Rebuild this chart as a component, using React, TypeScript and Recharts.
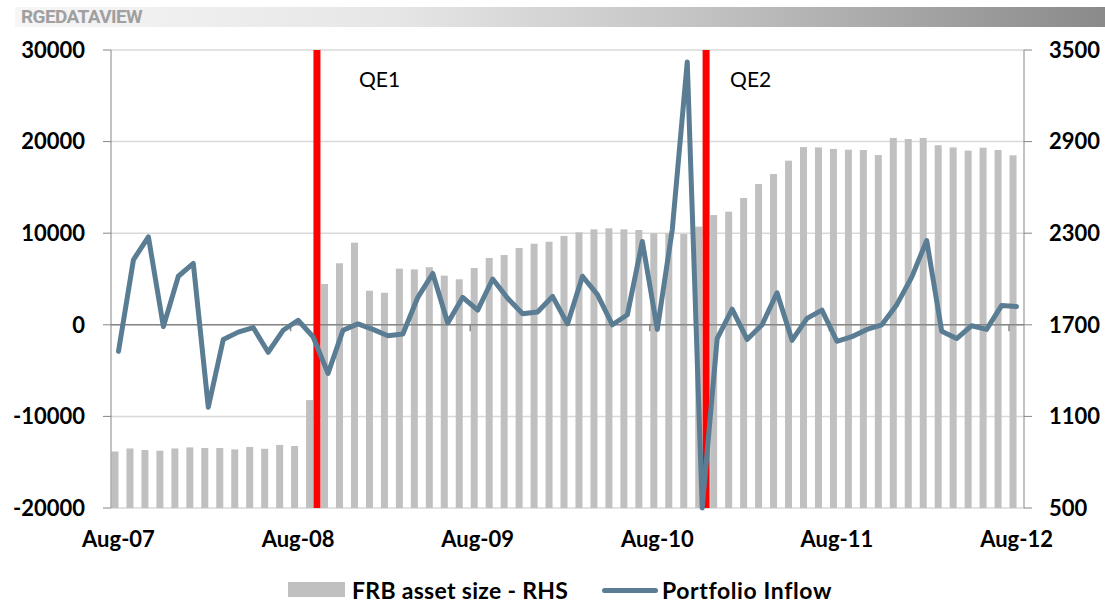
import React from "react";
import {
  ComposedChart,
  Bar,
  Line,
  XAxis,
  YAxis,
  CartesianGrid,
  ReferenceLine,
} from "recharts";

// monthly, Aug-07 .. Aug-12
const months = [
  "Aug-07", "Sep-07", "Oct-07", "Nov-07", "Dec-07", "Jan-08", "Feb-08", "Mar-08", "Apr-08", "May-08", "Jun-08", "Jul-08",
  "Aug-08", "Sep-08", "Oct-08", "Nov-08", "Dec-08", "Jan-09", "Feb-09", "Mar-09", "Apr-09", "May-09", "Jun-09", "Jul-09",
  "Aug-09", "Sep-09", "Oct-09", "Nov-09", "Dec-09", "Jan-10", "Feb-10", "Mar-10", "Apr-10", "May-10", "Jun-10", "Jul-10",
  "Aug-10", "Sep-10", "Oct-10", "Nov-10", "Dec-10", "Jan-11", "Feb-11", "Mar-11", "Apr-11", "May-11", "Jun-11", "Jul-11",
  "Aug-11", "Sep-11", "Oct-11", "Nov-11", "Dec-11", "Jan-12", "Feb-12", "Mar-12", "Apr-12", "May-12", "Jun-12", "Jul-12",
  "Aug-12",
];

// FRB asset size (RHS)
const frbAssets = [
  870, 890, 880, 875, 890, 897, 893, 893, 884, 900, 888, 913,
  906, 1207, 1967, 2103, 2238, 1923, 1910, 2068, 2063, 2077, 2022, 1998,
  2072, 2138, 2157, 2203, 2231, 2244, 2282, 2306, 2325, 2332, 2325, 2321,
  2299, 2299, 2295, 2343, 2419, 2441, 2531, 2622, 2688, 2775, 2864, 2862,
  2852, 2847, 2845, 2812, 2924, 2917, 2924, 2876, 2862, 2841, 2860, 2845,
  2810,
];

// Portfolio inflow (LHS)
const portfolioInflow = [
  -2900, 7100, 9600, -200, 5300, 6700, -9000, -1600, -800, -300, -3000, -600,
  500, -1300, -5300, -600, 100, -500, -1200, -1000, 3000, 5600, 200, 3000,
  1600, 5000, 2900, 1200, 1400, 3100, 100, 5300, 3300, 0, 1100, 9100,
  -500, 10400, 28700, -20000, -1500, 1700, -1600, 0, 3500, -1700, 700, 1600,
  -1800, -1300, -500, 0, 2200, 5200, 9200, -700, -1500, -100, -500, 2100,
  2000,
];

const xTicks = [0, 12, 24, 36, 48, 60];
const leftTicks = [-20000, -10000, 0, 10000, 20000, 30000];
const rightTicks = [500, 1100, 1700, 2300, 2900, 3500];
const yearTicks = [11.5, 23.5, 35.5, 47.5, 59.5];

const qeEvents = [
  { label: "QE1", at: 13.26 },
  { label: "QE2", at: 39.26 },
];
const qeLabelDx = [42, 24];

const data = months.map((m, i) => ({
  idx: i,
  month: m,
  frb: frbAssets[i],
  inflow: portfolioInflow[i],
}));

const BAR_GREY = "#c0c0c0";
const LINE_BLUE = "#5a7d93";
const AXIS_GREY = "#868686";
const FONT = "Lato, 'Open Sans', sans-serif";

const tickStyle = { fontSize: 22, fontWeight: 700, fill: "#000", fontFamily: FONT };

function OffsetBar(props: any) {
  const { x, y, width, height } = props;
  if (height <= 0) return null;
  return <rect x={x - 3.5} y={y} width={width} height={height} fill={BAR_GREY} />;
}

function QeLabel(props: any) {
  const { viewBox, text, dx } = props;
  if (!viewBox) return null;
  return (
    <text x={viewBox.x + dx} y={viewBox.y + 37} fontSize={21} fontFamily={FONT} fill="#000">
      {text}
    </text>
  );
}

export default function App() {
  return (
    <div style={{ position: "absolute", left: 0, top: 0, width: 1105, height: 602, background: "#fff", fontFamily: FONT }}>
      {/* header strip */}
      <div
        style={{
          position: "absolute",
          left: 15,
          top: 7,
          width: 1090,
          height: 20,
          background: "linear-gradient(to right, #f6f6f6 0%, #e6e6e6 35%, #c4c4c4 62%, #8a8a8a 100%)",
        }}
      >
        <span
          style={{
            position: "absolute",
            left: 6,
            top: 0,
            lineHeight: "20px",
            fontSize: 19,
            fontWeight: 700,
            letterSpacing: -0.6,
            color: "#a0a0a0",
            fontFamily: "Roboto, sans-serif",
          }}
        >
          RGEDATAVIEW
        </span>
      </div>

      <div style={{ position: "absolute", left: 0, top: 0 }}>
        <ComposedChart
          width={1105}
          height={602}
          data={data}
          margin={{ top: 50, right: 0, bottom: 54, left: 11 }}
        >
          <CartesianGrid yAxisId="left" vertical={false} stroke="#d9d9d9" strokeWidth={1.5} />
          <XAxis
            type="number"
            dataKey="idx"
            domain={[-0.5, 60.5]}
            ticks={xTicks}
            tickFormatter={(v) => months[v]}
            axisLine={false}
            tickLine={false}
            tickSize={6}
            tickMargin={17}
            height={40}
            tick={{ ...tickStyle, fontSize: 22 }}
            interval={0}
          />
          <YAxis
            yAxisId="left"
            orientation="left"
            domain={[-20000, 30000]}
            ticks={leftTicks}
            width={100}
            stroke={AXIS_GREY}
            tickSize={8}
            tickMargin={18}
            tick={tickStyle}
            interval={0}
          />
          <YAxis
            yAxisId="right"
            orientation="right"
            domain={[500, 3500]}
            ticks={rightTicks}
            width={81}
            stroke={AXIS_GREY}
            tickSize={8}
            tickMargin={17}
            tick={tickStyle}
            interval={0}
          />
          <Bar
            yAxisId="right"
            dataKey="frb"
            name="FRB asset size - RHS"
            fill={BAR_GREY}
            barSize={7}
            shape={OffsetBar}
            isAnimationActive={false}
          />
          <ReferenceLine yAxisId="left" y={0} stroke={AXIS_GREY} strokeWidth={1.5} />
          {yearTicks.map((t) => (
            <ReferenceLine
              key={t}
              yAxisId="left"
              segment={[
                { x: t, y: 0 },
                { x: t, y: -700 },
              ]}
              stroke={AXIS_GREY}
              strokeWidth={1.5}
            />
          ))}
          {qeEvents.map((q, i) => (
            <ReferenceLine
              key={q.label}
              yAxisId="left"
              x={q.at}
              stroke="#ff0000"
              strokeWidth={7}
              label={<QeLabel text={q.label} dx={qeLabelDx[i]} />}
            />
          ))}
          <Line
            yAxisId="left"
            type="linear"
            dataKey="inflow"
            name="Portfolio Inflow"
            stroke={LINE_BLUE}
            strokeWidth={5}
            strokeLinejoin="round"
            strokeLinecap="round"
            dot={false}
            activeDot={false}
            isAnimationActive={false}
          />
        </ComposedChart>
      </div>

      {/* legend */}
      <div style={{ position: "absolute", left: 0, top: 575, width: 1105, height: 30, fontSize: 23, fontWeight: 700, color: "#000" }}>
        <div style={{ position: "absolute", left: 288, top: 7, width: 57, height: 15, background: BAR_GREY }} />
        <span style={{ position: "absolute", left: 352, top: 0, lineHeight: "30px", whiteSpace: "nowrap", letterSpacing: 0.3 }}>
          FRB asset size - RHS
        </span>
        <div style={{ position: "absolute", left: 602, top: 13, width: 56, height: 5, borderRadius: 3, background: LINE_BLUE }} />
        <span style={{ position: "absolute", left: 662, top: 0, lineHeight: "30px", whiteSpace: "nowrap", letterSpacing: 0.6 }}>
          Portfolio Inflow
        </span>
      </div>
    </div>
  );
}
